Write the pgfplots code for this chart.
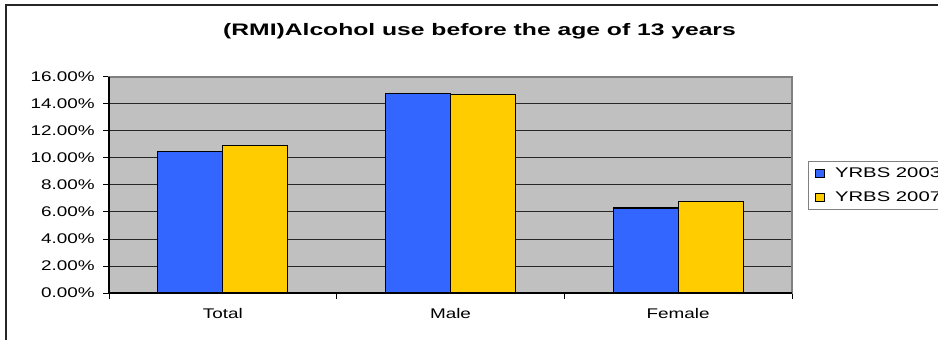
\documentclass[border=0pt]{standalone}
\usepackage{pgfplots}
\pgfplotsset{compat=1.18}
\usepackage{fontspec}
\setmainfont{Liberation Sans}
\newfontfamily\chartfont{Liberation Sans}[FakeStretch=1.35]
\newfontfamily\legendfont{Liberation Sans}[FakeStretch=1.45]
\newfontfamily\titlefont{Liberation Sans}[FakeStretch=1.48]
\definecolor{bar03}{HTML}{3366FF}
\definecolor{bar07}{HTML}{FFCC00}
\definecolor{plotbg}{HTML}{C0C0C0}
\pgfplotsset{
  squarelegend/.style={
    legend image code/.code={\draw[##1,line width=0.6pt] (0pt,-3.2pt) rectangle (6.8pt,3.2pt);}
  }
}

\begin{document}
\begin{tikzpicture}[x=0.75pt,y=0.75pt]
% chart frame
\begin{scope}
  \clip (0,0) rectangle (938,339);
  \draw[line width=1.4pt,black!85] (6,-20) -- (6,334) -- (960,334);
\end{scope}
\begin{axis}[
  at={(81.75pt,34.5pt)}, anchor=south west,
  scale only axis, width=512.25pt, height=162pt,
  xmin=-0.5, xmax=2.5, ymin=0, ymax=16,
  ybar=0pt, bar width=48.75pt,
  axis background/.style={fill=plotbg},
  axis line style={draw=gray, line width=1pt},
  xtick={0,1,2}, xticklabels={Total,Male,Female},
  minor xtick={-0.5,0.5,1.5,2.5},
  major x tick style={draw=none},
  minor x tick style={draw=black, line width=0.75pt},
  y tick style={draw=black, line width=0.75pt},
  ytick={0,2,...,16},
  tick align=outside, tick pos=left,
  major tick length=4.5pt, minor tick length=4.5pt,
  ymajorgrids,
  grid style={draw=black!85, line width=0.75pt},
  /pgf/number format/assume math mode=true,
  yticklabel={\pgfmathprintnumber[fixed,fixed zerofill,precision=2]{\tick}\%},
  tick label style={font=\chartfont\fontsize{10.5}{12}\selectfont},
  yticklabel style={anchor=east, inner sep=0pt, xshift=-6pt},
  xticklabel style={anchor=north, inner sep=0pt, yshift=-7pt},
  title={(RMI)Alcohol use before the age of 13 years},
  title style={at={(0.5425,1.176)}, anchor=center,
    font=\titlefont\bfseries\fontsize{12.5}{14}\selectfont},
  legend style={at={(1.0234,0.611)}, anchor=north west,
    draw=gray, line width=0.75pt, fill=white,
    font=\legendfont\fontsize{10.5}{12}\selectfont,
    inner xsep=5pt, inner ysep=4.5pt, row sep=9pt,
    nodes={inner sep=0pt, text height=7.6pt, text depth=1.4pt},
    /tikz/every odd column/.append style={column sep=7.5pt},
    cells={anchor=west}},
  after end axis/.code={
    \draw[black, line width=1pt] (rel axis cs:0,1) -- (rel axis cs:0,0) -- (rel axis cs:1,0);
  },
]
\addplot[fill=bar03, draw=black, line width=0.9pt, squarelegend]
  coordinates {(0,10.5) (1,14.8) (2,6.3)};
\addplot[fill=bar07, draw=black, line width=0.9pt, squarelegend]
  coordinates {(0,10.9) (1,14.7) (2,6.8)};
\legend{YRBS 2003, YRBS 2007}
\end{axis}
\pgfresetboundingbox
\path (0pt,0pt) rectangle (703.5pt,254.25pt);
\end{tikzpicture}
\end{document}
